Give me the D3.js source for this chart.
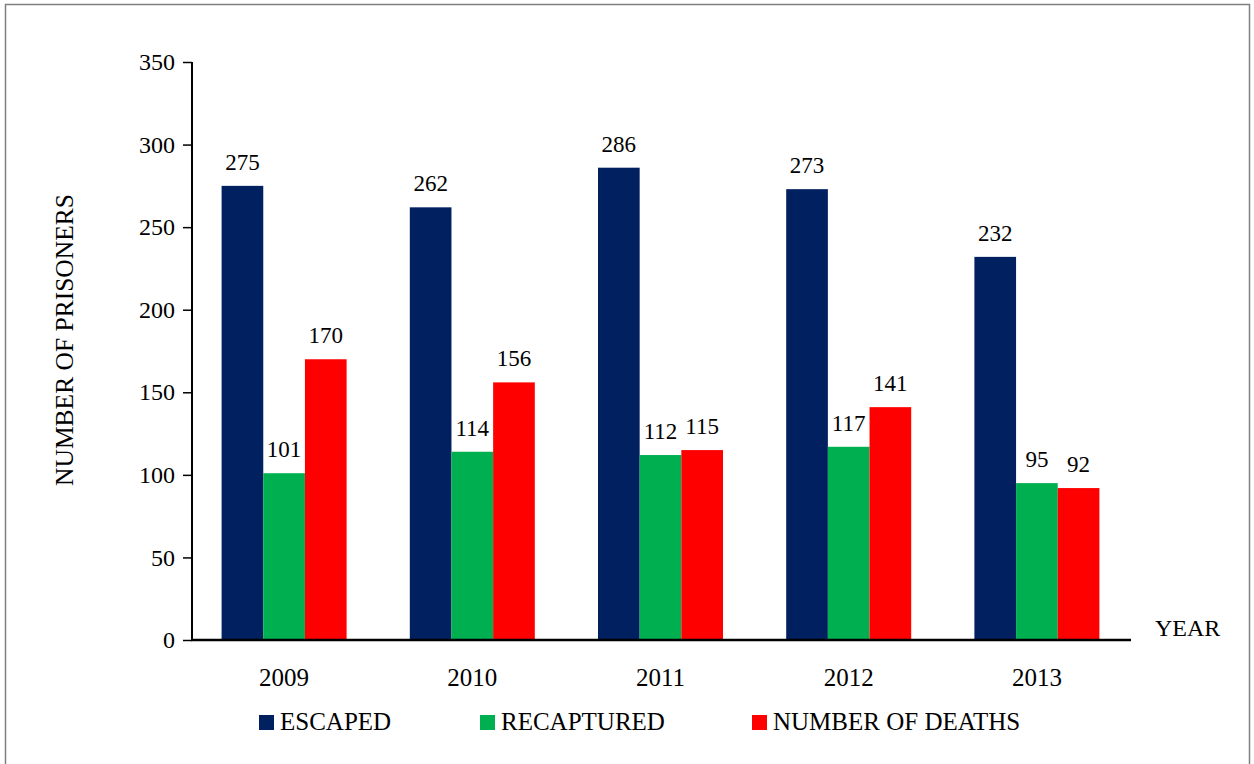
<!DOCTYPE html>
<html><head><meta charset="utf-8">
<script src="https://cdn.jsdelivr.net/npm/d3@7"></script>
<style>body{margin:0;background:#fff}svg{display:block}text{font-family:"Liberation Serif","Times New Roman",serif;fill:#000}</style>
</head><body>
<svg id="c" width="1254" height="764"></svg>
<script>
const years = ["2009","2010","2011","2012","2013"];
const seriesNames = ["ESCAPED","RECAPTURED","NUMBER OF DEATHS"];
const escaped = [275,262,286,273,232];
const recaptured = [101,114,112,117,95];
const deaths = [170,156,115,141,92];
const yTicks = [0,50,100,150,200,250,300,350];
const colors = ["#002060","#00B050","#FF0000"];

const svg = d3.select("#c");
svg.append("rect").attr("x",5.5).attr("y",4.5).attr("width",1244).attr("height",770)
  .attr("fill","none").attr("stroke","#7f7f7f").attr("stroke-width",1.5);

const x0 = d3.scaleBand().domain(years).range([190,1131]).paddingInner(0).paddingOuter(0);
const x1 = d3.scaleBand().domain(seriesNames).range([31.6, 31.6+125]);
const y = d3.scaleLinear().domain([0,350]).range([640,62]);

const data = [escaped,recaptured,deaths];

const g = svg.append("g");
years.forEach((yr,i)=>{
  seriesNames.forEach((s,j)=>{
    const v = data[j][i];
    const bx = x0(yr)+x1(s);
    g.append("rect").attr("x",bx).attr("y",y(v)).attr("width",x1.bandwidth()).attr("height",y(0)-y(v)).attr("fill",colors[j]);
    g.append("text").attr("x",bx+x1.bandwidth()/2).attr("y",y(v)-16).attr("text-anchor","middle")
      .attr("font-size",23).text(v);
  });
});

// Y axis
const yAxis = svg.append("g").attr("transform","translate(192,0)")
  .call(d3.axisLeft(y).tickValues(yTicks).tickSize(9).tickPadding(8).tickFormat(d3.format("d")));
yAxis.select(".domain").attr("stroke","#000").attr("stroke-width",2).attr("d","M0,62V640");
yAxis.selectAll(".tick line").attr("stroke","#000").attr("stroke-width",1.5);
yAxis.selectAll(".tick text").attr("font-size",24).attr("fill","#000").attr("font-family","Liberation Serif");

// X axis line
const xAxis = svg.append("g").attr("transform","translate(0,640)")
  .call(d3.axisBottom(x0).tickSize(0).tickPadding(28));
xAxis.select(".domain").attr("stroke","#000").attr("stroke-width",2.5).attr("d","M191,0H1131");
xAxis.selectAll(".tick text").attr("font-size",25).attr("fill","#000").attr("font-family","Liberation Serif");

svg.append("text").attr("x",1155).attr("y",636).attr("font-size",24).text("YEAR");
svg.append("text").attr("transform","translate(73,340) rotate(-90)").attr("text-anchor","middle")
  .attr("font-size",25.5).text("NUMBER OF PRISONERS");

// Legend
const legX = [259,480,752];
seriesNames.forEach((s,j)=>{
  svg.append("rect").attr("x",legX[j]).attr("y",715).attr("width",15).attr("height",15).attr("fill",colors[j]);
  svg.append("text").attr("x",legX[j]+21).attr("y",730).attr("font-size",25).text(s);
});
</script>
</body></html>
